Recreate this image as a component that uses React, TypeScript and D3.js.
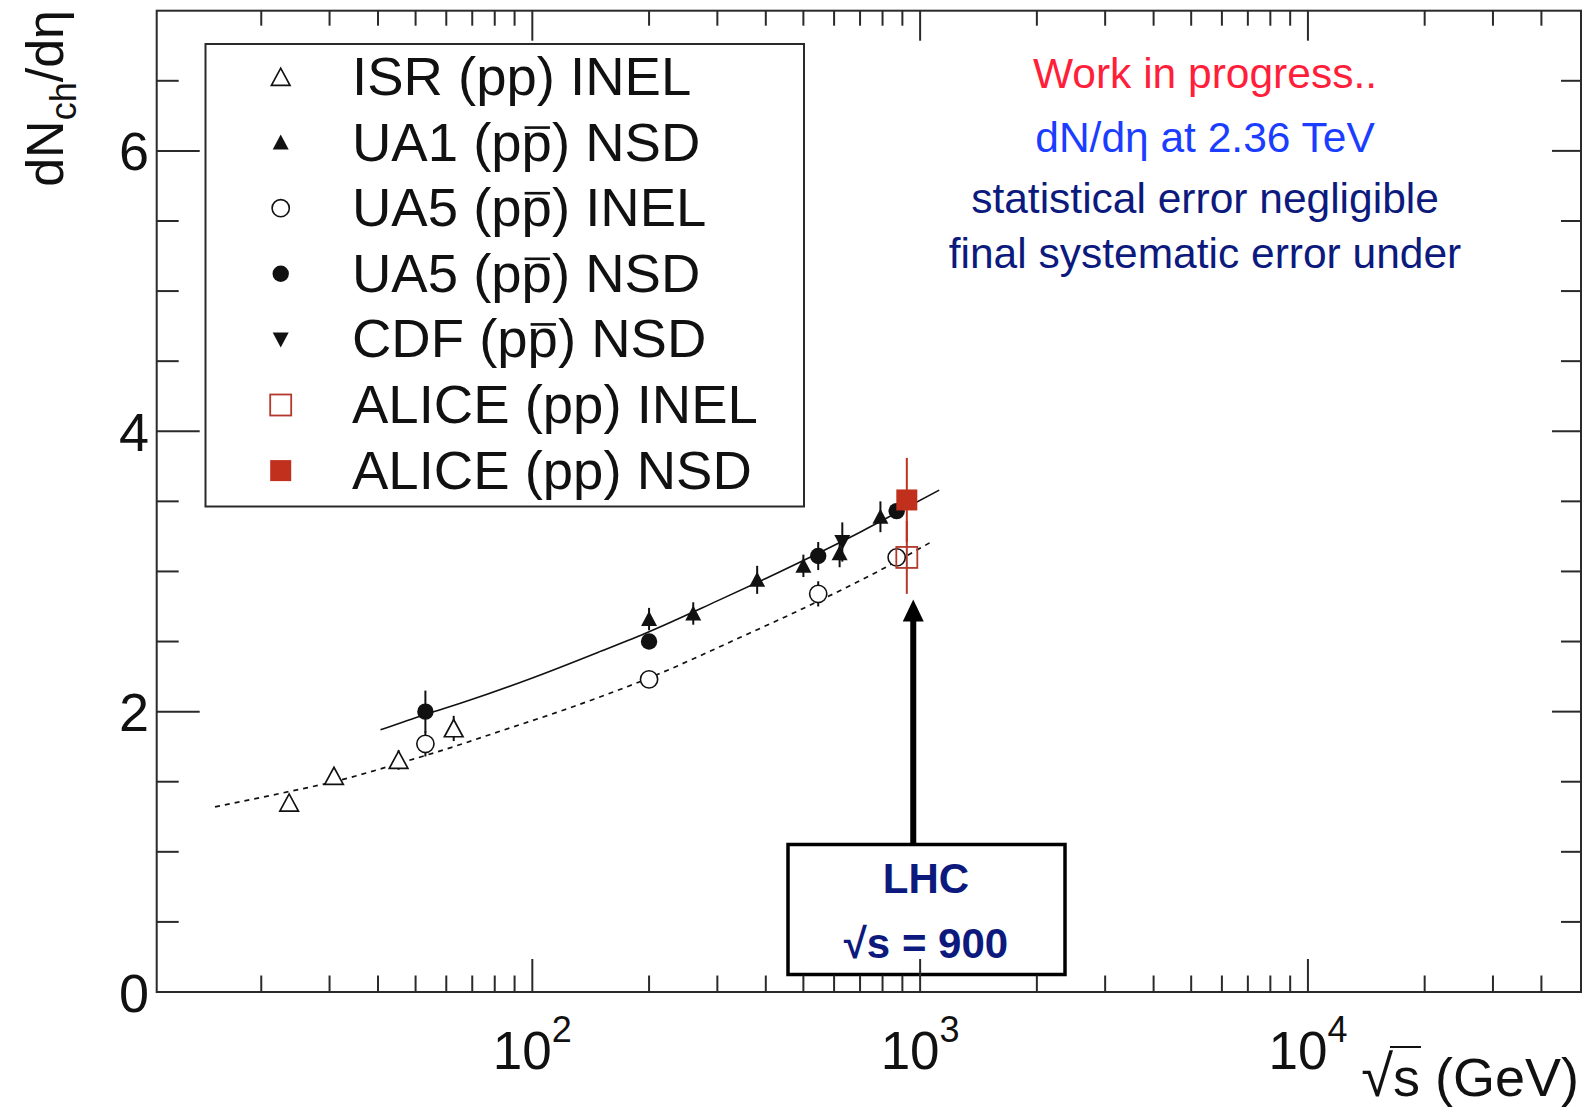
import React, { useEffect, useRef } from 'react';
import * as d3 from 'd3';

const FONT = "'Liberation Sans', Arial, Helvetica, sans-serif";
const INK = '#111111';
const FRAME = '#2a2a2a';
const ALICE_FILL = '#c1301d';
const ALICE_OPEN = '#b3392d';

// Axis ranges
const xRange = [10.75, 50600];
const yRange = [0, 7];

// ---- data (sqrt(s) in GeV, dN/deta, error) ----
const isrEnergy = [23.6, 30.8, 45.2, 62.7];
const isrValue = [1.35, 1.54, 1.655, 1.88];
const isrError = [0.03, 0.03, 0.07, 0.09];

const ua1Energy = [200, 260, 380, 500, 620, 790];
const ua1Value = [2.66, 2.7, 2.94, 3.04, 3.13, 3.39];
const ua1Error = [0.08, 0.08, 0.1, 0.08, 0.1, 0.11];

const ua5InelEnergy = [53, 200, 546, 870];
const ua5InelValue = [1.77, 2.23, 2.84, 3.1];
const ua5InelError = [0.09, 0.03, 0.09, 0.04];

const ua5NsdEnergy = [53, 200, 546, 870];
const ua5NsdValue = [2.0, 2.5, 3.11, 3.43];
const ua5NsdError = [0.15, 0.05, 0.1, 0.04];

const cdfEnergy = [630];
const cdfValue = [3.21];
const cdfError = [0.14];

const aliceInelEnergy = [924];
const aliceInelValue = [3.1];
const aliceInelError = [0.26];

const aliceNsdEnergy = [924];
const aliceNsdValue = [3.51];
const aliceNsdError = [0.3];

const nsdFitEnergy = [40.6, 53, 67, 100, 150, 200, 300, 400, 546, 700, 900, 1120];
const nsdFitValue = [1.87, 1.98, 2.07, 2.24, 2.43, 2.57, 2.79, 2.95, 3.13, 3.28, 3.44, 3.58];

const inelFitEnergy = [15.2, 23.6, 30.8, 45.2, 62.7, 82.5, 120, 200, 344, 539, 816, 1083];
const inelFitValue = [1.32, 1.43, 1.5, 1.63, 1.75, 1.86, 2.01, 2.24, 2.53, 2.78, 3.03, 3.22];

// ---- ticks ----
const yMajorTicks = [0, 2, 4, 6];
const yTickLabels = ['0', '2', '4', '6'];
const yMinorTicks = [0.5, 1, 1.5, 2.5, 3, 3.5, 4.5, 5, 5.5, 6.5];
const xMajorTicks = [100, 1000, 10000];
const xTickExponents = ['2', '3', '4'];
const xMinorTicks = [20, 30, 40, 50, 60, 70, 80, 90, 200, 300, 400, 500, 600, 700, 800, 900,
  2000, 3000, 4000, 5000, 6000, 7000, 8000, 9000, 20000, 30000, 40000];

// ---- legend ----
const legendLabels = ['ISR (pp) INEL', 'UA1 (pp) NSD', 'UA5 (pp) INEL', 'UA5 (pp) NSD',
  'CDF (pp) NSD', 'ALICE (pp) INEL', 'ALICE (pp) NSD'];
const legendAntiproton = [false, true, true, true, true, false, false];
const legendMarkers = ['openTriangle', 'triangle', 'openCircle', 'circle', 'downTriangle', 'openSquare', 'square'];

// ---- annotations ----
const noteLines = ['Work in progress..', 'dN/d\u03b7 at 2.36 TeV', 'statistical error negligible', 'final systematic error under'];
const noteColors = ['#ff1f3a', '#1a3dff', '#0c1a7e', '#0c1a7e'];
const boxLines = ['LHC', '\u221as = 900'];
const arrowEnergy = 960;
const arrowTipValue = 2.8;

type Series = { E: number[]; V: number[]; Err: number[]; marker: string; barColor: string };

function drawMarker(g: any, type: string, cx: number, cy: number) {
  if (type === 'openTriangle') {
    g.append('path').attr('d', `M${cx - 9.3},${cy + 8.3}L${cx + 9.3},${cy + 8.3}L${cx},${cy - 8.8}Z`)
      .attr('fill', '#fff').attr('stroke', INK).attr('stroke-width', 1.7);
  } else if (type === 'triangle') {
    g.append('path').attr('d', `M${cx - 8},${cy + 7}L${cx + 8},${cy + 7}L${cx},${cy - 8}Z`)
      .attr('fill', INK);
  } else if (type === 'downTriangle') {
    g.append('path').attr('d', `M${cx - 8},${cy - 7}L${cx + 8},${cy - 7}L${cx},${cy + 8}Z`)
      .attr('fill', INK);
  } else if (type === 'openCircle') {
    g.append('circle').attr('cx', cx).attr('cy', cy).attr('r', 8.6)
      .attr('fill', '#fff').attr('stroke', INK).attr('stroke-width', 1.6);
  } else if (type === 'circle') {
    g.append('circle').attr('cx', cx).attr('cy', cy).attr('r', 8.2).attr('fill', INK);
  } else if (type === 'openSquare') {
    g.append('rect').attr('x', cx - 10.5).attr('y', cy - 10.5).attr('width', 21).attr('height', 21)
      .attr('fill', 'none').attr('stroke', ALICE_OPEN).attr('stroke-width', 1.8);
  } else if (type === 'square') {
    g.append('rect').attr('x', cx - 10.5).attr('y', cy - 10.5).attr('width', 21).attr('height', 21)
      .attr('fill', ALICE_FILL);
  }
}

export default function App() {
  const ref = useRef<SVGSVGElement | null>(null);

  useEffect(() => {
    const svg = d3.select(ref.current);
    svg.selectAll('*').remove();

    const L = 156.7, R = 1581, T = 10.7, B = 992;
    const x = d3.scaleLog().domain(xRange).range([L, R]);
    const y = d3.scaleLinear().domain(yRange).range([B, T]);

    svg.append('rect').attr('width', 1595).attr('height', 1113).attr('fill', '#fff');

    // fit curves
    const line = d3.line<[number, number]>().x(d => x(d[0])).y(d => y(d[1])).curve(d3.curveMonotoneX);
    svg.append('path').attr('d', line(d3.zip(inelFitEnergy, inelFitValue) as any))
      .attr('fill', 'none').attr('stroke', INK).attr('stroke-width', 1.7).attr('stroke-dasharray', '5,5');
    svg.append('path').attr('d', line(d3.zip(nsdFitEnergy, nsdFitValue) as any))
      .attr('fill', 'none').attr('stroke', INK).attr('stroke-width', 1.6);

    const series: Series[] = [
      { E: isrEnergy, V: isrValue, Err: isrError, marker: 'openTriangle', barColor: INK },
      { E: ua5InelEnergy, V: ua5InelValue, Err: ua5InelError, marker: 'openCircle', barColor: INK },
      { E: ua1Energy, V: ua1Value, Err: ua1Error, marker: 'triangle', barColor: INK },
      { E: ua5NsdEnergy, V: ua5NsdValue, Err: ua5NsdError, marker: 'circle', barColor: INK },
      { E: cdfEnergy, V: cdfValue, Err: cdfError, marker: 'downTriangle', barColor: INK },
      { E: aliceInelEnergy, V: aliceInelValue, Err: aliceInelError, marker: 'openSquare', barColor: ALICE_OPEN },
      { E: aliceNsdEnergy, V: aliceNsdValue, Err: aliceNsdError, marker: 'square', barColor: ALICE_FILL },
    ];

    const gBars = svg.append('g');
    const gMarks = svg.append('g');
    series.forEach(s => {
      s.E.forEach((e, i) => {
        gBars.append('line').attr('x1', x(e)).attr('x2', x(e))
          .attr('y1', y(s.V[i] - s.Err[i])).attr('y2', y(s.V[i] + s.Err[i]))
          .attr('stroke', s.barColor).attr('stroke-width', 2);
      });
    });
    series.forEach(s => {
      s.E.forEach((e, i) => drawMarker(gMarks, s.marker, x(e), y(s.V[i])));
    });

    // legend
    const lg = svg.append('g');
    lg.append('rect').attr('x', 205.5).attr('y', 44).attr('width', 598.5).attr('height', 462.5)
      .attr('fill', '#fff').attr('stroke', FRAME).attr('stroke-width', 2);
    legendLabels.forEach((lab, k) => {
      const base = 95 + 65.6 * k;
      drawMarker(lg, legendMarkers[k], 280.7, base - 18);
      const t = lg.append('text').attr('x', 352).attr('y', base)
        .attr('font-family', FONT).attr('font-size', 54.5).attr('fill', INK).text(lab);
      if (legendAntiproton[k]) {
        const node = t.node() as SVGTextElement;
        const idx = lab.indexOf('(') + 2;
        const x0 = node.getStartPositionOfChar(idx).x;
        const x1 = node.getEndPositionOfChar(idx).x;
        lg.append('line').attr('x1', x0 + 3).attr('x2', x1 - 2)
          .attr('y1', base - 33).attr('y2', base - 33)
          .attr('stroke', INK).attr('stroke-width', 2.6);
      }
    });

    // notes on the right
    const noteBase = [88, 152, 213, 268];
    noteLines.forEach((s, k) => {
      svg.append('text').attr('x', 1205).attr('y', noteBase[k]).attr('text-anchor', 'middle')
        .attr('font-family', FONT).attr('font-size', 42.5).attr('fill', noteColors[k]).text(s);
    });

    // LHC box + arrow
    const ax = x(arrowEnergy);
    svg.append('line').attr('x1', ax).attr('x2', ax).attr('y1', 843).attr('y2', y(arrowTipValue) + 18)
      .attr('stroke', '#000').attr('stroke-width', 6);
    svg.append('path')
      .attr('d', `M${ax},${y(arrowTipValue)}L${ax - 10.5},${y(arrowTipValue) + 22}L${ax + 10.5},${y(arrowTipValue) + 22}Z`)
      .attr('fill', '#000');
    svg.append('rect').attr('x', 788).attr('y', 844.5).attr('width', 277).attr('height', 130)
      .attr('fill', '#fff').attr('stroke', '#000').attr('stroke-width', 3.5);
    const boxBase = [893, 958];
    boxLines.forEach((s, k) => {
      svg.append('text').attr('x', 926).attr('y', boxBase[k]).attr('text-anchor', 'middle')
        .attr('font-family', FONT).attr('font-size', 42).attr('font-weight', 'bold')
        .attr('fill', '#0c1a7e').text(s);
    });

    // axes ticks
    const ax_g = svg.append('g').attr('stroke', FRAME).attr('stroke-width', 2);
    xMinorTicks.forEach(e => {
      ax_g.append('line').attr('x1', x(e)).attr('x2', x(e)).attr('y1', B).attr('y2', B - 16.5);
      ax_g.append('line').attr('x1', x(e)).attr('x2', x(e)).attr('y1', T).attr('y2', T + 15);
    });
    xMajorTicks.forEach(e => {
      ax_g.append('line').attr('x1', x(e)).attr('x2', x(e)).attr('y1', B).attr('y2', B - 33);
      ax_g.append('line').attr('x1', x(e)).attr('x2', x(e)).attr('y1', T).attr('y2', T + 30);
    });
    yMinorTicks.forEach(v => {
      ax_g.append('line').attr('x1', L).attr('x2', L + 22).attr('y1', y(v)).attr('y2', y(v));
      ax_g.append('line').attr('x1', R).attr('x2', R - 20).attr('y1', y(v)).attr('y2', y(v));
    });
    yMajorTicks.forEach(v => {
      ax_g.append('line').attr('x1', L).attr('x2', L + 43).attr('y1', y(v)).attr('y2', y(v));
      ax_g.append('line').attr('x1', R).attr('x2', R - 29).attr('y1', y(v)).attr('y2', y(v));
    });
    svg.append('rect').attr('x', L).attr('y', T).attr('width', R - L).attr('height', B - T)
      .attr('fill', 'none').attr('stroke', FRAME).attr('stroke-width', 2);

    // tick labels
    yMajorTicks.forEach((v, i) => {
      svg.append('text').attr('x', 149).attr('y', y(v) + 19.5).attr('text-anchor', 'end')
        .attr('font-family', FONT).attr('font-size', 54).attr('fill', INK).text(yTickLabels[i]);
    });
    xMajorTicks.forEach((e, i) => {
      const t = svg.append('text').attr('x', x(e)).attr('y', 1069).attr('text-anchor', 'middle')
        .attr('font-family', FONT).attr('fill', INK);
      t.append('tspan').attr('font-size', 53).text('10');
      t.append('tspan').attr('font-size', 36).attr('dy', -27).text(xTickExponents[i]);
    });

    // axis titles
    const xt = svg.append('text').attr('x', 1579).attr('y', 1096).attr('text-anchor', 'end')
      .attr('font-family', FONT).attr('fill', INK);
    xt.append('tspan').attr('font-size', 58).text('\u221a');
    xt.append('tspan').attr('font-size', 54).text('s (GeV)');
    {
      const node = xt.node() as SVGTextElement;
      const ext = node.getExtentOfChar(0);
      const sEnd = node.getEndPositionOfChar(1).x;
      svg.append('line').attr('x1', ext.x + ext.width - 3).attr('x2', sEnd + 1)
        .attr('y1', ext.y + 4).attr('y2', ext.y + 4).attr('stroke', INK).attr('stroke-width', 2);
    }
    const yt = svg.append('text').attr('transform', 'translate(63,10) rotate(-90)')
      .attr('text-anchor', 'end').attr('font-family', FONT).attr('fill', INK);
    yt.append('tspan').attr('font-size', 52).text('dN');
    yt.append('tspan').attr('font-size', 36).attr('dy', 13).text('ch');
    yt.append('tspan').attr('font-size', 52).attr('dy', -13).text('/d\u03b7');
  }, []);

  return (
    <svg ref={ref} width={1595} height={1113}
      style={{ position: 'absolute', left: 0, top: 0, display: 'block', background: '#fff' }} />
  );
}
